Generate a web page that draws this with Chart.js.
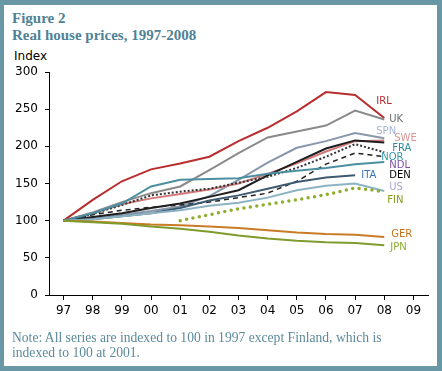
<!DOCTYPE html>
<html>
<head>
<meta charset="utf-8">
<script src="https://cdn.jsdelivr.net/npm/chart.js@4.4.0/dist/chart.umd.min.js"></script>
<style>
  html, body { margin: 0; padding: 0; background: #fff; }
  #frame {
    position: absolute; left: 0; top: 0; width: 442px; height: 371px;
    box-sizing: border-box; border-style: solid; border-color: #6a97a5;
    border-width: 5px 5px 5px 4px; background: #fff;
  }
  #wrap { position: absolute; left: 0; top: 0; width: 442px; height: 371px; }
  .title { position: absolute; left: 12px; font: bold 15px "Liberation Serif", serif; color: #4f8294; white-space: nowrap; }
  .note { position: absolute; left: 12px; font: 13.6px "Liberation Serif", serif; color: #5b8a9a; white-space: nowrap; }
  #index { position: absolute; left: 14px; top: 49px; font: 12px "DejaVu Sans", sans-serif; color: #000; }
</style>
</head>
<body>
<div id="frame"></div>
<div class="title" style="top:10px">Figure 2</div>
<div class="title" style="top:27px">Real house prices, 1997-2008</div>
<div id="index">Index</div>
<div id="wrap"><canvas id="myChart" width="442" height="371"></canvas></div>
<div class="note" style="top:330px">Note: All series are indexed to 100 in 1997 except Finland, which is</div>
<div class="note" style="top:345px">indexed to 100 at 2001.</div>
<script>
const years = ['97', '98', '99', '00', '01', '02', '03', '04', '05', '06', '07', '08', '09']
const yTicks = [0, 50, 100, 150, 200, 250, 300]

const irl = [100, 128, 153, 169, 177, 186, 207, 225, 247, 273, 269, 238]
const uk = [100, 111, 125, 137, 146, 168, 191, 212, 220, 228, 248, 236]
const spn = [100, 104, 108, 113, 119, 133, 155, 178, 198, 207, 218, 211]
const swe = [100, 110, 122, 130, 136, 142, 150, 163, 177, 193, 207, 208]
const fra = [100, 109, 121, 134, 139, 143, 151, 159, 171, 186, 203, 192]
const nor = [100, 108, 114, 118, 121, 125, 131, 137, 153, 176, 191, 186]
const ndl = [100, 110, 123, 146, 155, 156, 157, 163, 167, 171, 176, 179]
const den = [100, 105, 110, 117, 123, 132, 141, 161, 179, 197, 208, 205]
const ita = [100, 102, 106, 110, 117, 127, 134, 143, 152, 158, 161, null]
const us = [100, 102, 106, 110, 114, 120, 124, 131, 141, 147, 150, 140]
const fin = [null, null, null, null, 100, 108, 116, 122, 128, 135, 144, 139]
const ger = [100, 99, 97, 95, 94, 92, 90, 87, 84, 82, 81, 78]
const jpn = [100, 98, 96, 92, 89, 85, 80, 76, 73, 71, 70, 67]

// series label: text colour, shift in px from the '08' column, value it sits at
const tags = [
  ['IRL', '#b52a2c', -8, 260],
  ['UK', '#6f6f72', 5, 236],
  ['SPN', '#a3b3d4', -8, 220],
  ['SWE', '#d99595', 10, 211],
  ['FRA', '#2a8c9e', 8, 197],
  ['NOR', '#3399ab', -3, 185],
  ['NDL', '#7a4fa3', 5, 175],
  ['DEN', '#000000', 5, 160.5],
  ['ITA', '#3a74b8', -23, 160.5],
  ['US', '#a9a3cc', 5, 145],
  ['FIN', '#8a9a18', 3, 127],
  ['GER', '#c8741e', 7, 82],
  ['JPN', '#8aaa30', 6, 64],
]

function line(data, color, extra) {
  return Object.assign({
    data: data,
    borderColor: color,
    borderWidth: 2,
    pointRadius: 0,
    fill: false,
    tension: 0,
    spanGaps: false,
  }, extra || {})
}

window.onload = function () {
  const ctx = document.getElementById('myChart')

  const myChart = new Chart(ctx, {
    type: 'line',
    data: {
      labels: years,
      datasets: [
        line(jpn, '#7f9b2c'),
        line(ger, '#c97b26'),
        line(fin, '#8fae2e', { borderWidth: 3.5, borderDash: [0, 6.5], borderCapStyle: 'round' }),
        line(us, '#8cb3c3'),
        line(ita, '#3e5a71'),
        line(ndl, '#4b8fa0'),
        line(nor, '#222222', { borderWidth: 1.5, borderDash: [5, 4] }),
        line(fra, '#333333', { borderDash: [2, 2] }),
        line(den, '#1e1e1e'),
        line(swe, '#d27a7a'),
        line(spn, '#8797ac'),
        line(uk, '#8a8a8d'),
        line(irl, '#b82e2e'),
      ],
    },
    options: {
      responsive: false,
      animation: false,
      layout: { padding: { top: 72, right: 14, left: 0, bottom: 0 } },
      plugins: { legend: { display: false }, tooltip: { enabled: false } },
      scales: {
        x: {
          offset: true,
          afterFit: function (s) { s.height = 76 },
          border: { color: '#000', width: 1 },
          grid: {
            drawOnChartArea: false,
            tickLength: 5,
            color: function (c) { return c.index === years.length ? 'rgba(0,0,0,0)' : '#000' },
          },
          ticks: { color: '#000', font: { family: 'DejaVu Sans', size: 12 }, padding: 4, maxRotation: 0 },
        },
        y: {
          min: 0,
          max: 300,
          afterFit: function (s) { s.width = 49 },
          afterBuildTicks: function (s) { s.ticks = yTicks.map(function (v) { return { value: v } }) },
          border: { color: '#000', width: 1 },
          grid: { drawOnChartArea: false, tickLength: 4, color: '#000' },
          ticks: { color: '#000', font: { family: 'DejaVu Sans', size: 12 }, padding: 7 },
        },
      },
    },
    plugins: [
      {
        id: 'tags',
        afterDraw: function (chart) {
          const c = chart.ctx
          const xs = chart.scales.x
          const ys = chart.scales.y
          const x08 = xs.getPixelForValue(years.indexOf('08'))
          c.save()
          c.font = '10px "DejaVu Sans"'
          c.textAlign = 'left'
          c.textBaseline = 'middle'
          tags.forEach(function (t) {
            c.fillStyle = t[1]
            c.fillText(t[0], x08 + t[2], ys.getPixelForValue(t[3]))
          })
          c.restore()
        },
      },
    ],
  })
}
</script>
</body>
</html>
